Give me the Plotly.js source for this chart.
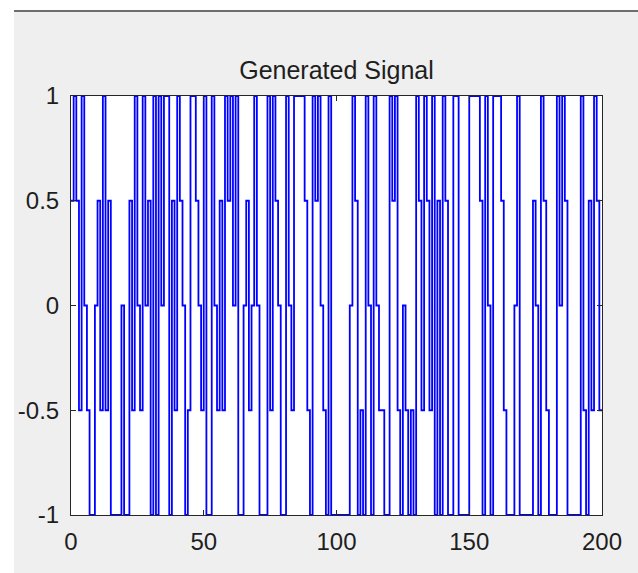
<!DOCTYPE html>
<html>
<head>
<meta charset="utf-8">
<script src="https://cdn.plot.ly/plotly-3.0.1.min.js"></script>
<style>
  html, body { margin:0; padding:0; background:#ffffff; }
  #wrap { position:relative; width:638px; height:573px; overflow:hidden; background:#ffffff; }
  #fig { position:absolute; left:14px; top:10px; right:0; bottom:0; background:#efefef; border-top:2px solid #6e6e6e; }
  #chart { position:absolute; left:0; top:0; width:638px; height:573px; }
</style>
</head>
<body>
<div id="wrap">
  <div id="fig"></div>
  <div id="chart"></div>
</div>
<script>
// Signal samples, levels -1, -0.5, 0, 0.5, 1
const signalA = [0.5, 1, 0.5, -0.5, 1, 0, -0.5, -1, -1, 0, 0.5, -0.5, 1, -0.5, 0.5, -1, -1, -1, -1, 0, -1, -1, 0.5, -0.5, 1, 0, -0.5, 1, 0, 0.5, -1, 1];
const signalB = [-1, 1, 0, 1, 1, -1, 0.5, -0.5, 1, 0.5, 0, -1, -0.5, 1, 1, 0.5, 0, -0.5, 1, -1, -1, 1, 0, -0.5, 0.5, -0.5, 1, 0.5, 1, 0, 1, -1, -1, 0];
const signalC = [0.5, -0.5, 0, 1, 0, -1, -1, -1, 1, -0.5, 1, 0.5, 0, -1, -1, 1, 0, -0.5, 1, 1, 1, 1, 0.5, -0.5, -1, 1, 0.5, 1, 0, -0.5, -1, 1, -1, -1];
const signalD = [-1, -1, -1, -1, -1, 0, 1, 0.5, -1, -0.5, -1, 1, 0, -1, 1, 0, -0.5, -0.5, -1, -1, 1, 0.5, 1, -0.5, -1, 0, -0.5, -1, -0.5, -1, 1, 0.5, -0.5, 1];
const signalE = [0.5, -0.5, 1, -1, 0.5, -1, 1, 0.5, -1, -1, 1, 1, -1, -1, -1, -1, 1, 1, 1, 1, 0.5, -1, 1, 0, -1, 1, 1, 1, 0.5, -0.5, -1, -1, -1, 0];
const signalF = [1, -1, -1, -1, -1, -1, 0.5, 0, -1, 1, 0.5, -0.5, -1, -1, -1, 1, 0, 1, 0.5, -1, -1, -1, -1, -1, 1, -0.5, -1, 0.5, -0.5, 1, 0.5, -0.5, -0.5];

const xTickVals = [0, 50, 100, 150, 200];
const xTickText = ['0', '50', '100', '150', '200'];
const yTickVals = [-1, -0.5, 0, 0.5, 1];
const yTickText = ['-1', '-0.5', '0', '0.5', '1'];
const titleText = 'Generated Signal';

const y = [].concat(signalA, signalB, signalC, signalD, signalE, signalF);
const x = y.map((_, i) => i);

const FONT = 'Arial, "Liberation Sans", Helvetica, sans-serif';

const trace = {
  x: x, y: y, type: 'scatter', mode: 'lines',
  line: { shape: 'hv', color: '#0000ff', width: 1.8 },
  hoverinfo: 'skip'
};

const axisCommon = {
  showgrid: false, zeroline: false,
  showline: true, linecolor: '#262626', linewidth: 1, mirror: 'ticks',
  ticks: 'inside', ticklen: 5, tickwidth: 1, tickcolor: '#262626',
  tickfont: { family: FONT, size: 24, color: '#1e1e1e' },
  tickmode: 'array'
};

const layout = {
  width: 638, height: 573,
  margin: { l: 71, r: 36, t: 96, b: 58, pad: 0 },
  paper_bgcolor: 'rgba(0,0,0,0)',
  plot_bgcolor: '#ffffff',
  showlegend: false,
  title: {
    text: titleText,
    font: { family: FONT, size: 25, color: '#1e1e1e' },
    x: 0.5, xref: 'paper', xanchor: 'center',
    y: 1 - 70 / 573, yref: 'container', yanchor: 'middle'
  },
  xaxis: Object.assign({}, axisCommon, {
    range: [0, 200], tickvals: xTickVals, ticktext: xTickText, ticklabelstandoff: 5
  }),
  yaxis: Object.assign({}, axisCommon, {
    range: [-1, 1], tickvals: yTickVals, ticktext: yTickText, ticklabelstandoff: 6
  })
};

Plotly.newPlot('chart', [trace], layout, { staticPlot: true, displayModeBar: false });
</script>
</body>
</html>
